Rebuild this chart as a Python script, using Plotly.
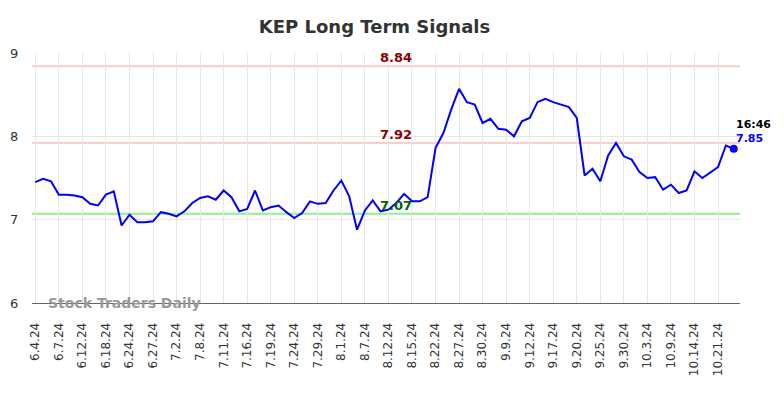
import plotly.graph_objects as go

tick_labels = ["6.4.24", "6.7.24", "6.12.24", "6.18.24", "6.24.24", "6.27.24", "7.2.24", "7.8.24",
               "7.11.24", "7.16.24", "7.19.24", "7.24.24", "7.29.24", "8.1.24", "8.7.24", "8.12.24",
               "8.15.24", "8.22.24", "8.27.24", "8.30.24", "9.9.24", "9.12.24", "9.17.24", "9.20.24",
               "9.25.24", "9.30.24", "10.3.24", "10.9.24", "10.14.24", "10.21.24"]

prices = [7.45, 7.49, 7.46, 7.30, 7.30, 7.29, 7.27, 7.19, 7.17, 7.30,
          7.34, 6.93, 7.06, 6.97, 6.97, 6.98, 7.09, 7.07, 7.04, 7.10,
          7.20, 7.26, 7.28, 7.24, 7.35, 7.27, 7.10, 7.13, 7.35, 7.11,
          7.15, 7.17, 7.09, 7.02, 7.08, 7.22, 7.19, 7.20, 7.35, 7.47,
          7.28, 6.88, 7.11, 7.23, 7.10, 7.12, 7.20, 7.31, 7.22, 7.22,
          7.27, 7.86, 8.04, 8.32, 8.57, 8.41, 8.38, 8.16, 8.21, 8.09,
          8.08, 8.00, 8.18, 8.22, 8.41, 8.45, 8.41, 8.38, 8.35, 8.22,
          7.53, 7.61, 7.46, 7.77, 7.92, 7.76, 7.72, 7.57, 7.50, 7.51,
          7.36, 7.42, 7.32, 7.35, 7.58, 7.50, 7.57, 7.63, 7.89, 7.85]

resistance_levels = [8.84, 7.92]
support_levels = [7.07]
last_time = "16:46"
last_price = 7.85

x_idx = list(range(len(prices)))
tick_vals = x_idx[::3][:len(tick_labels)]

fig = go.Figure()
fig.add_trace(go.Scatter(x=x_idx, y=prices, mode="lines",
                         line=dict(color="#0000ff", width=2), hoverinfo="skip"))
fig.add_trace(go.Scatter(x=[x_idx[-1]], y=[last_price], mode="markers",
                         marker=dict(color="#0000ff", size=8), hoverinfo="skip"))

for lvl in resistance_levels:
    fig.add_shape(type="line", xref="paper", x0=0, x1=1, y0=lvl, y1=lvl,
                  line=dict(color="#ffcccc", width=2), layer="below")
    fig.add_annotation(x=46, y=lvl, text="<b>%.2f</b>" % lvl, showarrow=False,
                       yanchor="bottom", yshift=-1, font=dict(color="#8b0000", size=13,
                                                             family="DejaVu Sans"))
for lvl in support_levels:
    fig.add_shape(type="line", xref="paper", x0=0, x1=1, y0=lvl, y1=lvl,
                  line=dict(color="#90ee90", width=2), layer="below")
    fig.add_annotation(x=46, y=lvl, text="<b>%.2f</b>" % lvl, showarrow=False,
                       yanchor="bottom", yshift=-1, font=dict(color="#006400", size=13,
                                                             family="DejaVu Sans"))

fig.add_annotation(x=x_idx[-1], y=last_price, text="<b>%s</b>" % last_time, showarrow=False,
                   xanchor="left", yanchor="middle", xshift=0, yshift=24,
                   font=dict(color="#000000", size=11, family="DejaVu Sans"))
fig.add_annotation(x=x_idx[-1], y=last_price, text="<b>%.2f</b>" % last_price, showarrow=False,
                   xanchor="left", yanchor="middle", xshift=0, yshift=10,
                   font=dict(color="#0000ff", size=11, family="DejaVu Sans"))

fig.add_annotation(xref="paper", yref="y", x=0.02, y=6.0, text="<b>Stock Traders Daily</b>",
                   showarrow=False, xanchor="left", yanchor="middle",
                   font=dict(color="#999999", size=14, family="DejaVu Sans"))

W, H = 776, 390
fig.update_layout(
    width=W, height=H,
    margin=dict(l=24, r=44, t=45, b=95, autoexpand=False),
    paper_bgcolor="white", plot_bgcolor="white",
    showlegend=False,
    title=dict(text="<b>KEP Long Term Signals</b>", x=366.5 / W, xref="container",
               xanchor="center", y=1 - 19 / H, yanchor="middle",
               font=dict(size=18, color="#333333", family="DejaVu Sans")),
    font=dict(family="DejaVu Sans", color="#333333"),
)
fig.update_xaxes(range=[-0.42, 89.8], tickmode="array", tickvals=tick_vals, ticktext=tick_labels,
                 tickangle=-90, tickfont=dict(size=12, color="#333333"),
                 showgrid=True, gridcolor="#e6e6e6", gridwidth=1,
                 ticks="outside", ticklen=14, tickcolor="rgba(0,0,0,0)", automargin=False,
                 showline=True, linecolor="#666666", linewidth=1, zeroline=False)
fig.update_yaxes(range=[6, 9], tickvals=[6, 7, 8, 9], ticktext=["6", "7", "8", "9"],
                 tickfont=dict(size=13, color="#333333"), automargin=False,
                 showgrid=True, gridcolor="#e6e6e6", gridwidth=1,
                 ticks="outside", ticklen=10, tickcolor="rgba(0,0,0,0)",
                 zeroline=False, showline=False)

fig.write_html("out.html")
